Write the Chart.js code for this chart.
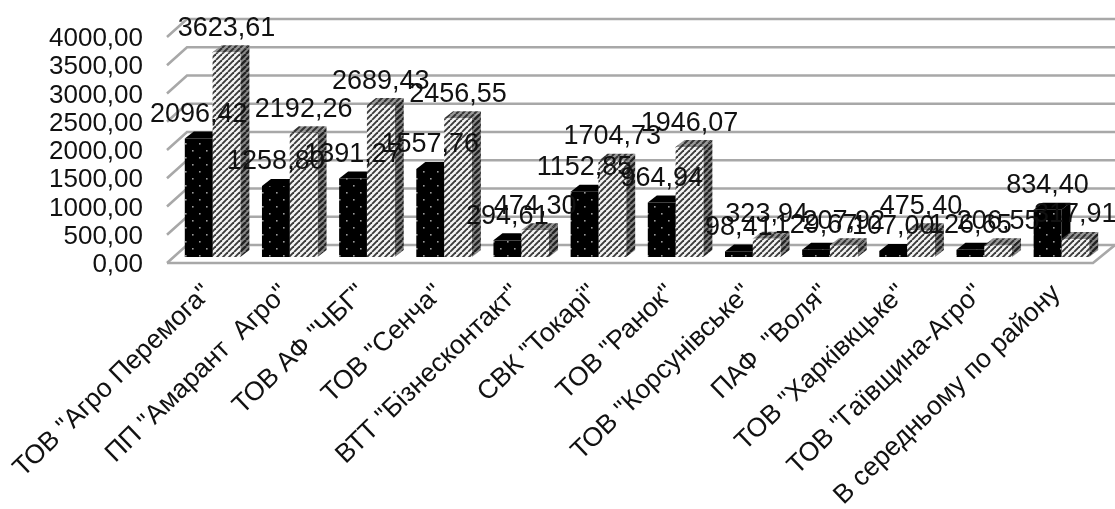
<!DOCTYPE html>
<html><head><meta charset="utf-8">
<style>html,body{margin:0;padding:0;background:#fff}canvas{display:block;filter:blur(0.5px)}</style>
<script src="https://cdn.jsdelivr.net/npm/chart.js@4"></script>
</head><body>
<canvas id="c" width="1115" height="509" style="width:1115px;height:509px"></canvas>
<script>
const categories = ['ТОВ "Агро Перемога"','ПП "Амарант  Агро"','ТОВ АФ "ЧБГ"','ТОВ "Сенча"','ВТТ "Бізнесконтакт"','СВК "Токарі"','ТОВ "Ранок"','ТОВ "Корсунівське"','ПАФ  "Воля"','ТОВ "Харківкцьке"','ТОВ "Гаївщина-Агро"','В середньому по району'];
const seriesDark = [2096.42,1258.80,1391.27,1557.76,294.61,1152.85,964.94,98.41,129.67,107.00,126.65,834.40];
const seriesHatched = [3623.61,2192.26,2689.43,2456.55,474.30,1704.73,1946.07,323.94,207.92,475.40,206.55,317.91];
const yTicks = [0,500,1000,1500,2000,2500,3000,3500,4000];
const fmt = v => Number(v).toFixed(2).replace('.',',');

function tile(w,h,draw){const t=document.createElement('canvas');t.width=w;t.height=h;draw(t.getContext('2d'));return document.createElement('canvas').getContext('2d').createPattern(t,'repeat');}
function stripes(bg,fg,lw){return tile(6,6,g=>{g.fillStyle=bg;g.fillRect(0,0,6,6);g.strokeStyle=fg;g.lineWidth=lw;for(let i=-6;i<=12;i+=6){g.beginPath();g.moveTo(i,6);g.lineTo(i+6,0);g.stroke();}});}
const dotted = tile(14,14,g=>{g.fillStyle='#000';g.fillRect(0,0,14,14);g.fillStyle='#9a9a9a';g.fillRect(3,3,1.6,1.6);g.fillRect(10,10,1.6,1.6);});
const hatch = stripes('#f4f4f4','#3a3a3a',1.9);
const sideHatch = stripes('#8a8a8a','#222',2.4);
const topHatch = stripes('#999','#333',2);

const DX=9, DY=7, BX=13, BY=12;
const wall = {id:'wall',beforeDatasetsDraw(ch){
  const g=ch.ctx,y=ch.scales.y,a=ch.chartArea;
  g.save();g.strokeStyle='#a8a8a8';g.lineWidth=2.6;
  const fx=a.left-7, bx=a.left+BX, r=1115, fr=a.right-7;
  yTicks.forEach(t=>{const p=y.getPixelForValue(t);
    g.beginPath();g.moveTo(fx,p+6);g.lineTo(bx,p-BY);g.lineTo(r,p-BY);g.stroke();});
  const p0=y.getPixelForValue(0);
  g.beginPath();g.moveTo(fx,p0+6);g.lineTo(fr,p0+6);g.lineTo(r,p0-BY);g.stroke();
  g.restore();
  ch.data.datasets.forEach((ds,i)=>{ch.getDatasetMeta(i).data.forEach(b=>{
    const l=b.x-b.width/2,r2=b.x+b.width/2,t=b.y,bt=b.base;
    g.fillStyle=i?sideHatch:'#000';
    g.beginPath();g.moveTo(r2,t);g.lineTo(r2+DX,t-DY);g.lineTo(r2+DX,bt-DY);g.lineTo(r2,bt);g.closePath();g.fill();
    g.fillStyle=i?topHatch:'#000';
    g.beginPath();g.moveTo(l,t);g.lineTo(l+DX,t-DY);g.lineTo(r2+DX,t-DY);g.lineTo(r2,t);g.closePath();g.fill();
  });});
},
afterDatasetsDraw(ch){
  const g=ch.ctx;g.save();g.fillStyle='#111';g.font='27px "Liberation Sans"';g.textAlign='center';g.textBaseline='middle';
  ch.data.datasets.forEach((ds,i)=>{ch.getDatasetMeta(i).data.forEach((b,k)=>{
    g.fillText(fmt(ds.data[k]),b.x,b.y-24);
  });});
  g.restore();
}};

new Chart(document.getElementById('c'),{
  type:'bar',
  data:{labels:categories,datasets:[
    {label:'Dark',data:seriesDark,backgroundColor:dotted,borderWidth:0,barPercentage:1,categoryPercentage:0.72},
    {label:'Hatched',data:seriesHatched,backgroundColor:hatch,borderWidth:0,barPercentage:1,categoryPercentage:0.72}
  ]},
  options:{
    responsive:false,animation:false,devicePixelRatio:1,
    layout:{padding:{top:31,right:15,left:0,bottom:0}},
    plugins:{legend:{display:false},tooltip:{enabled:false},title:{display:false}},
    scales:{
      x:{grid:{display:false,drawTicks:false},border:{display:false},
        afterFit(s){s.height=252;s.paddingLeft=0;s.paddingRight=0;s.paddingTop=0;s.paddingBottom=0;},
        ticks:{autoSkip:false,minRotation:44,maxRotation:44,padding:21,labelOffset:-5,color:'#111',font:{family:'"Liberation Sans"',size:26.5}}},
      y:{min:0,max:4000,grid:{display:false,drawTicks:false},border:{display:false},
        afterFit(s){s.width=174;s.paddingTop=0;s.paddingBottom=0;s.paddingLeft=0;s.paddingRight=0;},
        afterBuildTicks(s){s.ticks=yTicks.map(v=>({value:v}));},
        ticks:{autoSkip:false,callback:fmt,padding:31,labelOffset:8,color:'#111',font:{family:'"Liberation Sans"',size:26}}}
    }
  },
  plugins:[wall]
});
</script>
</body></html>
